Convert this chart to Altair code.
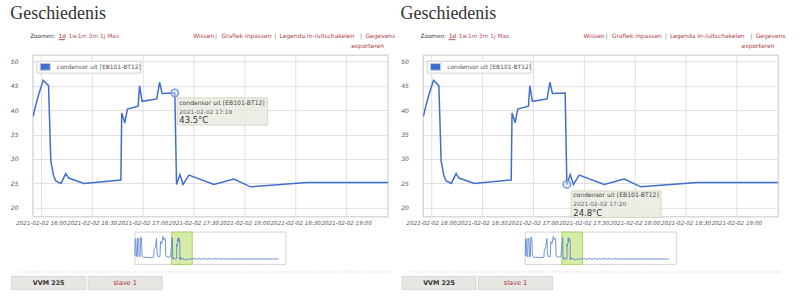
import altair as alt
import pandas as pd

DAY = "2021-02-02"
SERIES = "condensor uit [EB101-BT12]"

# main series (time of day, °C)
main_times = ["15:55:20", "15:56:40", "15:58:40", "16:01:20", "16:04:30", "16:05:50", "16:07:30",
              "16:08:50", "16:11:50", "16:14:40", "16:16:20", "16:25:30", "16:47:10", "16:47:40",
              "16:49:30", "16:51:00", "16:57:20", "16:58:10", "16:59:40", "17:08:20", "17:10:00",
              "17:11:30", "17:19:00", "17:20:00", "17:22:00", "17:23:50", "17:27:20", "17:42:00",
              "17:53:50", "18:03:40", "18:37:00", "19:24:45"]
main_values = [38.7, 40.6, 43.2, 46.1, 45.0, 29.6, 26.5, 25.5, 25.0, 27.0, 26.1, 25.0, 25.7, 39.4,
               37.4, 40.2, 40.8, 45.0, 41.8, 42.3, 45.7, 43.4, 43.5, 24.8, 26.8, 24.8, 26.7, 24.8,
               25.9, 24.3, 25.2, 25.2]

# navigator series outside the zoomed window
nav_before_times = ["2021-02-02 09:44", "2021-02-02 09:46", "2021-02-02 09:53", "2021-02-02 09:59",
                    "2021-02-02 10:08", "2021-02-02 10:12", "2021-02-02 10:21", "2021-02-02 10:27",
                    "2021-02-02 10:35", "2021-02-02 10:40", "2021-02-02 10:50", "2021-02-02 10:57",
                    "2021-02-02 11:08", "2021-02-02 12:35", "2021-02-02 12:53", "2021-02-02 12:57",
                    "2021-02-02 13:10", "2021-02-02 13:23", "2021-02-02 13:29", "2021-02-02 13:37",
                    "2021-02-02 13:57", "2021-02-02 14:03", "2021-02-02 14:15", "2021-02-02 14:29",
                    "2021-02-02 14:35", "2021-02-02 14:51", "2021-02-02 14:57", "2021-02-02 15:21",
                    "2021-02-02 15:45"]
nav_before_values = [28.0, 44.0, 45.0, 28.0, 27.2, 45.5, 44.5, 28.0, 27.2, 46.5, 45.0, 28.0, 27.0,
                     26.6, 27.0, 34.0, 36.0, 45.0, 30.0, 27.5, 27.5, 42.0, 40.0, 47.0, 44.0, 45.0,
                     28.0, 27.0, 27.5]
nav_after_times = ["2021-02-02 19:45", "2021-02-02 20:10", "2021-02-02 20:35", "2021-02-02 21:00",
                   "2021-02-02 21:25", "2021-02-02 21:50", "2021-02-02 22:15", "2021-02-02 22:40",
                   "2021-02-02 23:05", "2021-02-02 23:30", "2021-02-02 23:55", "2021-02-03 00:20",
                   "2021-02-03 00:45", "2021-02-03 01:15", "2021-02-03 10:01"]
nav_after_values = [25.9, 24.8, 25.9, 24.8, 25.8, 24.9, 25.8, 24.9, 25.7, 25.0, 25.6, 25.0, 25.5,
                    25.2, 25.2]

x_ticks = ["16:00", "16:30", "17:00", "17:30", "18:00", "18:30", "19:00"]
y_ticks = [20, 25, 30, 35, 40, 45, 50]
y_domain = [18.16, 51.23]
view_range = ["2021-02-02 15:55:17", "2021-02-02 19:24:45"]
nav_range = ["2021-02-02 09:43:53", "2021-02-03 11:16:03"]
nav_y_domain = [20.0, 51.2]

hover_left = ("17:19", 43.5)
hover_right = ("17:20", 24.8)

zoom_label = "Zoomen:"
zoom_links = ["1d", "1w", "1m", "3m", "1j", "Max."]
menu_links = ["Wissen", "Grafiek inpassen", "Legenda in-/uitschakelen", "Gegevens", "exporteren"]
tabs = ["VVM 225", "slave 1"]
heading = "Geschiedenis"

BLUE = "#3f6fca"
LINK = "#b23a48"
FONT = "DejaVu Sans"


def iso(s):
    return pd.Timestamp(s, tz="UTC").strftime("%Y-%m-%dT%H:%M:%SZ")


def ms(s):
    return int(pd.Timestamp(s, tz="UTC").value // 10**6)


main_df = pd.DataFrame({"t": [iso(f"{DAY} {t}") for t in main_times], "v": main_values})
nav_df = pd.DataFrame({
    "t": [iso(t) for t in nav_before_times] + list(main_df["t"]) + [iso(t) for t in nav_after_times],
    "v": nav_before_values + main_values + nav_after_values,
})
window_df = pd.DataFrame({"s": [iso(view_range[0])], "e": [iso(view_range[1])]})
one = pd.DataFrame({"k": [0]})

x_scale = alt.Scale(type="utc", domain=[ms(view_range[0]), ms(view_range[1])])
y_scale = alt.Scale(domain=y_domain, nice=False, zero=False)
nav_x_scale = alt.Scale(type="utc", domain=[ms(nav_range[0]), ms(nav_range[1])], range=[102.3, 253.7])
nav_y_scale = alt.Scale(domain=nav_y_domain, nice=False, zero=False, range=[209.7, 177.3])


def txt(s, x, y, size=6.0, color="#333", align="left", font=FONT, weight="normal",
        baseline="middle"):
    return alt.Chart(one).mark_text(text=s, align=align, baseline=baseline, font=font,
                                    fontSize=size, color=color, fontWeight=weight).encode(
        x=alt.value(x), y=alt.value(y))


def box(x1, x2, y1, y2, **kw):
    return alt.Chart(one).mark_rect(**kw).encode(
        x=alt.value(x1), x2=alt.value(x2), y=alt.value(y1), y2=alt.value(y2))


def panel(hover, tip_box, tip_text_x, tip_lines_y, with_bounds):
    hover_df = pd.DataFrame({
        "t": [iso(f"{DAY} {hover[0]}")], "v": [hover[1]],
        "name": [SERIES], "label": [f"{DAY} {hover[0]}"], "val": [f"{hover[1]}°C"],
    })
    layers = []
    if with_bounds:
        layers.append(box(-32, 768, -54, 243, opacity=0))

    line = alt.Chart(main_df).mark_line(color=BLUE, strokeWidth=1.5, clip=True).encode(
        x=alt.X("t:T", scale=x_scale, axis=alt.Axis(
            values=[ms(f"{DAY} {t}") for t in x_ticks],
            labelExpr="utcFormat(datum.value, '%Y-%m-%d %H:%M')",
            title=None, grid=True, gridColor="#e0e0e0", domain=False, ticks=False,
            labelFont=FONT, labelFontStyle="italic", labelFontSize=5.6, labelColor="#555",
            labelPadding=4, labelOverlap=False, labelBound=False, labelFlush=False)),
        y=alt.Y("v:Q", scale=y_scale, axis=alt.Axis(
            values=y_ticks, title=None, grid=True, gridColor="#e0e0e0", domain=False,
            ticks=False, labelFont=FONT, labelFontStyle="italic", labelFontSize=6,
            labelColor="#555", labelPadding=15)),
    )
    layers.append(line)

    # legend inside the plot
    layers.append(box(4, 108, 6, 18, fill="white", stroke="#d0d0d0", strokeWidth=1))
    layers.append(box(7.3, 17.3, 8.3, 15, fill=BLUE, stroke="#b9c7e6", strokeWidth=1))
    layers.append(txt(SERIES, 24, 12, size=6.0, color="#555"))

    # hovered point
    layers.append(alt.Chart(hover_df).mark_circle(
        size=55, fill="#d6e0f5", fillOpacity=0.5, stroke="#7f9edb", strokeWidth=1.6, opacity=1
    ).encode(x=alt.X("t:T", scale=x_scale, axis=None), y=alt.Y("v:Q", scale=y_scale, axis=None)))

    # tooltip
    layers.append(box(*tip_box, fill="#ebebe2", fillOpacity=0.88, stroke="#d8d8c6", strokeWidth=1))
    layers.append(alt.Chart(hover_df).mark_text(align="left", baseline="middle", font=FONT,
                                                fontSize=6.1, color="#444").encode(
        x=alt.value(tip_text_x), y=alt.value(tip_lines_y[0]), text="name:N"))
    layers.append(alt.Chart(hover_df).mark_text(align="left", baseline="middle", font=FONT,
                                                fontSize=5.9, color="#666").encode(
        x=alt.value(tip_text_x), y=alt.value(tip_lines_y[1]), text="label:N"))
    layers.append(alt.Chart(hover_df).mark_text(align="left", baseline="middle", font=FONT,
                                                fontSize=8.5, color="#333").encode(
        x=alt.value(tip_text_x), y=alt.value(tip_lines_y[2]), text="val:N"))

    # heading and menus
    layers.append(txt(heading, -22.7, -36, size=18, color="#333", font="Liberation Serif",
                      baseline="alphabetic"))
    layers.append(txt(zoom_label, -2.7, -19, size=5.7, color="#333"))
    zx = [25.7, 35.7, 44.9, 56.0, 67.3, 74.7]
    for i, (lab, x) in enumerate(zip(zoom_links, zx)):
        layers.append(txt(lab, x, -19, size=5.7, color="#a8202e" if i == 0 else "#c0505c"))
    layers.append(alt.Chart(one).mark_rule(color="#a8202e", strokeWidth=0.8).encode(
        x=alt.value(25.7), x2=alt.value(32.2), y=alt.value(-15.6)))
    mx = [160.7, 189.0, 247.3, 333.3]
    for lab, x in zip(menu_links[:4], mx):
        layers.append(txt(lab, x, -19, size=6.0, color=LINK))
    for x in [183.6, 243.0, 329.0]:
        layers.append(txt("|", x, -19, size=6.0, color="#777", align="center"))
    layers.append(txt(menu_links[4], 352, -9, size=6.0, color=LINK, align="right"))

    # navigator
    layers.append(box(102.3, 253.7, 177.3, 209.7, fill="white", stroke="#d4d4d4", strokeWidth=1))
    layers.append(alt.Chart(window_df).mark_rect(fill="#d7eca6", stroke="#a9d465",
                                                  strokeWidth=1).encode(
        x=alt.X("s:T", scale=nav_x_scale, axis=None), x2="e:T",
        y=alt.value(177.3), y2=alt.value(209.7)))
    layers.append(alt.Chart(nav_df).mark_line(color="#5f86d2", strokeWidth=0.9, clip=False).encode(
        x=alt.X("t:T", scale=nav_x_scale, axis=None),
        y=alt.Y("v:Q", scale=nav_y_scale, axis=None)))

    # separator and tabs
    layers.append(alt.Chart(one).mark_rule(color="#c4c4c4", strokeDash=[1, 2], strokeWidth=1).encode(
        x=alt.value(-12), x2=alt.value(360), y=alt.value(217.3)))
    layers.append(box(-21.3, 53, 221.7, 235, fill="#e6e6e3", stroke="#d2d2ce", strokeWidth=0.8))
    layers.append(box(55.3, 129.7, 221.7, 235, fill="#e6e6e3", stroke="#d2d2ce", strokeWidth=0.8))
    layers.append(txt(tabs[0], 15.8, 228.4, size=6.4, color="#333", align="center", weight="bold"))
    layers.append(txt(tabs[1], 92.5, 228.4, size=6.6, color="#b03040", align="center"))

    return alt.layer(*layers).resolve_scale(x="independent", y="independent").properties(
        width=356, height=162)


left = panel(hover_left, (144.7, 235.3, 42.7, 70), 146.7, (47.7, 56.7, 65.2), True)
right = panel(hover_right, (148.4, 238.4, 136, 162.7), 150.4, (140.3, 149.5, 158.5), False)

chart = alt.hconcat(left, right, spacing=35.3, bounds="flush").properties(
    padding=0, background="white"
).configure_view(stroke="#d9d9d9", strokeWidth=1.5)

chart.save("out.html", embed_options={"renderer": "svg", "actions": False})
